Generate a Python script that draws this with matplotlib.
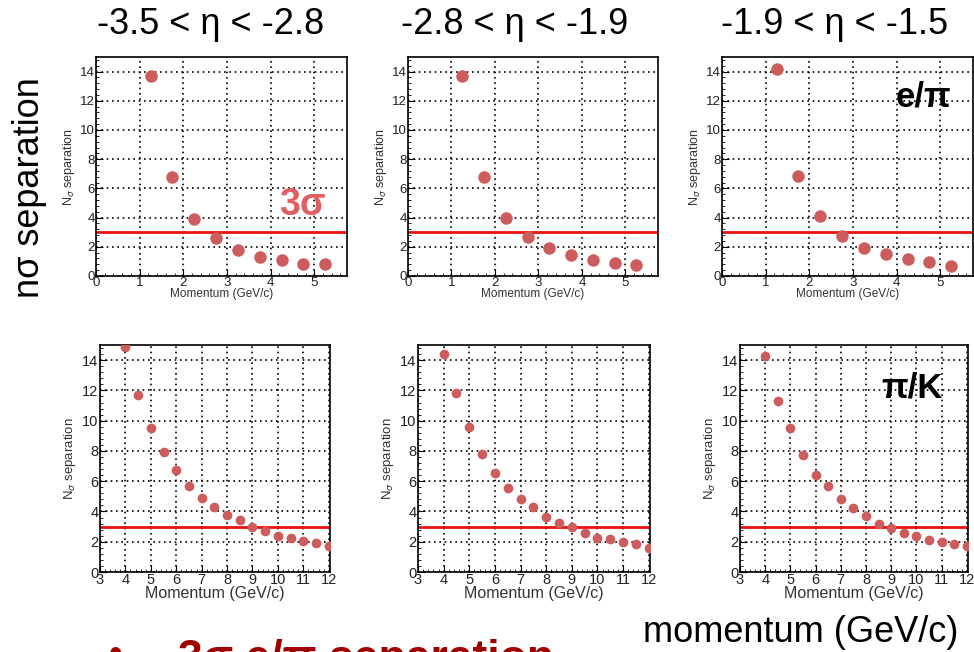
import numpy as np
import matplotlib.pyplot as plt
from matplotlib.ticker import MultipleLocator

plt.rcParams['font.family'] = ['Liberation Sans', 'DejaVu Sans']

# Data
eta_titles = ['-3.5 < η < -2.8', '-2.8 < η < -1.9', '-1.9 < η < -1.5']

p_epi = [1.25, 1.75, 2.25, 2.75, 3.25, 3.75, 4.25, 4.75, 5.25]
nsig_epi = [
    [13.7, 6.75, 3.9, 2.6, 1.8, 1.3, 1.1, 0.85, 0.8],
    [13.7, 6.8, 4.0, 2.7, 1.95, 1.45, 1.1, 0.9, 0.75],
    [14.2, 6.85, 4.1, 2.75, 1.95, 1.5, 1.15, 0.95, 0.7],
]

p_piK = [4, 4.5, 5, 5.5, 6, 6.5, 7, 7.5, 8, 8.5, 9, 9.5, 10, 10.5, 11, 11.5, 12]
nsig_piK = [
    [14.9, 11.7, 9.5, 7.95, 6.75, 5.65, 4.9, 4.3, 3.75, 3.45, 3.0, 2.7, 2.4, 2.25, 2.05, 1.9, 1.7],
    [14.4, 11.8, 9.55, 7.8, 6.55, 5.55, 4.8, 4.3, 3.65, 3.25, 2.95, 2.55, 2.25, 2.2, 2.0, 1.85, 1.6],
    [14.25, 11.3, 9.5, 7.7, 6.4, 5.7, 4.85, 4.25, 3.7, 3.2, 2.9, 2.6, 2.35, 2.1, 1.95, 1.85, 1.7],
]

threshold = 3.0

W, H = 974, 652
fig = plt.figure(figsize=(W / 100, H / 100), dpi=100)


def px_axes(l, t, r, b):
    return fig.add_axes([l / W, 1 - b / H, (r - l) / W, (b - t) / H])


def style(ax, lsize):
    ax.grid(True, which='major', color='black', linestyle=(0, (1, 2.2)), linewidth=1.2)
    ax.tick_params(which='both', direction='in', top=False, right=False,
                   labelsize=lsize, labelcolor='#222222', pad=1)
    ax.tick_params(which='major', length=5)
    ax.tick_params(which='minor', length=2.5)
    for s in ax.spines.values():
        s.set_linewidth(1.2)
    ax.set_axisbelow(True)


dot = '#cd5c5c'
line_red = '#ee1111'

top_boxes = [(96, 57, 347, 276), (408, 57, 658, 276), (722, 57, 973, 276)]
bot_boxes = [(100, 345, 330, 572), (418, 345, 650, 572), (740, 345, 968, 572)]
title_x = [211, 515, 835]

for i in range(3):
    ax = px_axes(*top_boxes[i])
    style(ax, 9.5)
    ax.axhline(threshold, color=line_red, lw=2, zorder=2)
    ax.plot(p_epi, nsig_epi[i], 'o', color=dot, ms=9, mec='none', zorder=3)
    ax.set_xlim(0, 5.75)
    ax.set_ylim(0, 15)
    ax.xaxis.set_major_locator(MultipleLocator(1))
    ax.xaxis.set_minor_locator(MultipleLocator(0.2))
    ax.yaxis.set_major_locator(MultipleLocator(2))
    ax.yaxis.set_minor_locator(MultipleLocator(0.4))
    ax.set_xlabel('Momentum (GeV/c)', fontsize=8.5, color='#333333', labelpad=-1)
    ax.set_ylabel(r'N$_\sigma$ separation', fontsize=9, color='#333333', labelpad=2)
    fig.text(title_x[i] / W, 1 - 25 / H, eta_titles[i],
             fontsize=26, ha='center', va='center')

    ax = px_axes(*bot_boxes[i])
    style(ax, 10.5)
    ax.axhline(threshold, color=line_red, lw=2, zorder=2)
    ax.plot(p_piK, nsig_piK[i], 'o', color=dot, ms=7, mec='none', zorder=3)
    ax.set_xlim(3, 12.05)
    ax.set_ylim(0, 15)
    ax.xaxis.set_major_locator(MultipleLocator(1))
    ax.xaxis.set_minor_locator(MultipleLocator(0.2))
    ax.yaxis.set_major_locator(MultipleLocator(2))
    ax.yaxis.set_minor_locator(MultipleLocator(0.4))
    ax.set_xlabel('Momentum (GeV/c)', fontsize=11.5, color='#333333', labelpad=-1)
    ax.set_ylabel(r'N$_\sigma$ separation', fontsize=9.5, color='#333333', labelpad=3)

# slide annotations
fig.text(30 / W, 1 - 188 / H, 'nσ separation', fontsize=26, rotation=90,
         ha='center', va='center')
fig.text(302 / W, 1 - 205 / H, '3σ', fontsize=27, fontweight='bold', color='#e06060',
         ha='center', va='center')
fig.text(923 / W, 1 - 97 / H, 'e/π', fontsize=25, fontweight='bold', color='black',
         ha='center', va='center')
fig.text(912 / W, 1 - 388 / H, 'π/K', fontsize=25, fontweight='bold', color='black',
         ha='center', va='center')
fig.text(801 / W, 1 - 633 / H, 'momentum (GeV/c)', fontsize=26, ha='center', va='center')
fig.text(115 / W, 1 - 656 / H, '•', fontsize=28, color='#a00000', ha='center', va='center')
fig.text(178 / W, 1 - 660 / H, '3σ e/π separation', fontsize=32, fontweight='bold',
         color='#a00000', ha='left', va='center')

fig.savefig('out.png', dpi=100)
